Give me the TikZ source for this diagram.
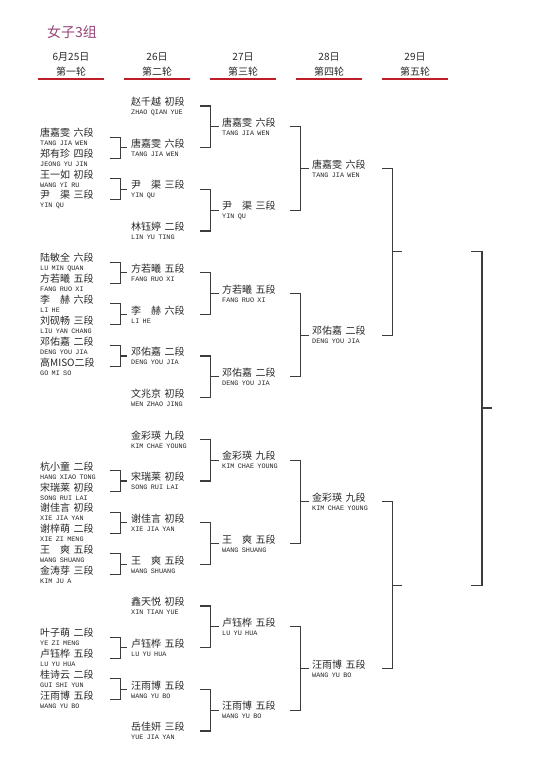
\documentclass[tikz,border=0pt]{standalone}
\usepackage{fontspec}
\setmainfont{Liberation Serif}
\newfontfamily\cjk{Noto Sans CJK SC}
\newfontfamily\pyfont{Liberation Mono}
\setlength{\parindent}{0pt}
\definecolor{titlec}{RGB}{150,70,120}
\definecolor{linec}{RGB}{60,60,60}
\definecolor{redline}{RGB}{190,30,40}
\definecolor{txt}{RGB}{40,40,40}
\definecolor{pyc}{RGB}{40,40,40}
\newcommand\cnf{\cjk\fontsize{10}{9}\selectfont}
\newcommand\pyf{\pyfont\fontsize{6.8}{9}\selectfont}
\newcommand\two[2]{\hbox to 3em{#1\hfil #2}}
\newcommand\ent[2]{{\cnf #1}\\{\pyf\color{pyc}#2}}
\tikzset{
  ebase/.style={anchor=west, inner ysep=0pt, align=left, text=txt, font=\cnf},
  e1/.style={ebase, inner xsep=0pt, text width=70pt},
  e2/.style={ebase, inner xsep=4pt, text width=65pt},
  e3/.style={ebase, inner xsep=3pt, text width=65pt},
  e4/.style={ebase, inner xsep=3pt, text width=67pt},
  br/.style={draw=linec, line width=1.1pt},
  hdr/.style={inner sep=0pt, text=txt, font=\cjk\fontsize{10}{12}\selectfont},
  ul/.style={draw=redline, line width=1.6pt},
}
\begin{document}
\begin{tikzpicture}[x=1pt,y=-1pt]
\useasboundingbox (0,0) rectangle (550,778);
\fill[white] (0,0) rectangle (550,778);
% title
\node[anchor=west, inner sep=0pt, text=titlec, font=\cjk\fontsize{14}{16}\selectfont] (title) at (47,32) {女子3组};
% headers
\foreach \x/\d/\r/\i in {71/6月25日/第一轮/1, 157/26日/第二轮/2, 243/27日/第三轮/3, 329/28日/第四轮/4, 415/29日/第五轮/5}{
  \node[hdr] (d\i) at (\x,57) {\d};
  \node[hdr] (rd\i) at (\x,72) {\r};
  \draw[ul] (\x-33,79) -- (\x+33,79);
}
% round 2
\foreach \k/\cn/\py in {
  0/赵千越 初段/ZHAO QIAN YUE,
  1/唐嘉雯 六段/TANG JIA WEN,
  2/\two{尹}{渠} 三段/YIN QU,
  3/林钰婷 二段/LIN YU TING,
  4/方若曦 五段/FANG RUO XI,
  5/\two{李}{赫} 六段/LI HE,
  6/邓佑嘉 二段/DENG YOU JIA,
  7/文兆京 初段/WEN ZHAO JING,
  8/金彩瑛 九段/KIM CHAE YOUNG,
  9/宋瑞莱 初段/SONG RUI LAI,
  10/谢佳言 初段/XIE JIA YAN,
  11/\two{王}{爽} 五段/WANG SHUANG,
  12/鑫天悦 初段/XIN TIAN YUE,
  13/卢钰桦 五段/LU YU HUA,
  14/汪雨博 五段/WANG YU BO,
  15/岳佳妍 三段/YUE JIA YAN}{
  \pgfmathsetmacro\yy{106+41.667*\k}
  \node[e2] (r2-\k) at (127,\yy) {\ent{\cn}{\py}};
}
% round 1
\foreach \k/\a/\ap/\b/\bp in {
  1/唐嘉雯 六段/TANG JIA WEN/郑有珍 四段/JEONG YU JIN,
  2/王一如 初段/WANG YI RU/\two{尹}{渠} 三段/YIN QU,
  4/陆敏全 六段/LU MIN QUAN/方若曦 五段/FANG RUO XI,
  5/\two{李}{赫} 六段/LI HE/刘砚畅 三段/LIU YAN CHANG,
  6/邓佑嘉 二段/DENG YOU JIA/高MISO二段/GO MI SO,
  9/杭小童 二段/HANG XIAO TONG/宋瑞莱 初段/SONG RUI LAI,
  10/谢佳言 初段/XIE JIA YAN/谢梓萌 二段/XIE ZI MENG,
  11/\two{王}{爽} 五段/WANG SHUANG/金涛芽 三段/KIM JU A,
  13/叶子萌 二段/YE ZI MENG/卢钰桦 五段/LU YU HUA,
  14/桂诗云 二段/GUI SHI YUN/汪雨博 五段/WANG YU BO}{
  \pgfmathsetmacro\ya{106+41.667*\k-10.4}
  \pgfmathsetmacro\yb{106+41.667*\k+10.4}
  \node[e1] (r1a-\k) at (40,\ya) {\ent{\a}{\ap}};
  \node[e1] (r1b-\k) at (40,\yb) {\ent{\b}{\bp}};
  \draw[br] (r1a-\k.east) -- ++(10,0) |- (r1b-\k.east);
  \draw[br] (r2-\k.west) -- ++(-7,0);
}
% round 3
\foreach \j/\cn/\py in {
  0/唐嘉雯 六段/TANG JIA WEN,
  1/\two{尹}{渠} 三段/YIN QU,
  2/方若曦 五段/FANG RUO XI,
  3/邓佑嘉 二段/DENG YOU JIA,
  4/金彩瑛 九段/KIM CHAE YOUNG,
  5/\two{王}{爽} 五段/WANG SHUANG,
  6/卢钰桦 五段/LU YU HUA,
  7/汪雨博 五段/WANG YU BO}{
  \pgfmathsetmacro\yy{106+41.667*(2*\j+0.5)}
  \pgfmathtruncatemacro\ka{2*\j}
  \pgfmathtruncatemacro\kb{2*\j+1}
  \node[e3] (r3-\j) at (219,\yy) {\ent{\cn}{\py}};
  \draw[br] (r2-\ka.east) -- ++(10,0) |- (r2-\kb.east);
  \draw[br] (r3-\j.west) -- ++(-9,0);
}
% round 4
\foreach \i/\cn/\py in {
  0/唐嘉雯 六段/TANG JIA WEN,
  1/邓佑嘉 二段/DENG YOU JIA,
  2/金彩瑛 九段/KIM CHAE YOUNG,
  3/汪雨博 五段/WANG YU BO}{
  \pgfmathsetmacro\yy{106+41.667*(4*\i+1.5)}
  \pgfmathtruncatemacro\ja{2*\i}
  \pgfmathtruncatemacro\jb{2*\i+1}
  \node[e4] (r4-\i) at (309,\yy) {\ent{\cn}{\py}};
  \draw[br] (r3-\ja.east) -- ++(10,0) |- (r3-\jb.east);
  \draw[br] (r4-\i.west) -- ++(-9,0);
}
% round 5 (empty slots)
\foreach \m in {0,1}{
  \pgfmathsetmacro\yy{106+41.667*(8*\m+3.5)}
  \pgfmathtruncatemacro\ia{2*\m}
  \pgfmathtruncatemacro\ib{2*\m+1}
  \coordinate (r5-\m) at (402,\yy);
  \coordinate (f-\m) at (471,\yy);
  \draw[br] (r4-\ia.east) -- ++(10,0) |- (r4-\ib.east);
  \draw[br] (r5-\m) -- ++(-10,0);
}
\coordinate (champ) at (492,408);
\draw[br] (f-0) -- ++(11,0) |- (f-1);
\draw[br] (champ) -- ++(-10,0);
\end{tikzpicture}
\end{document}
